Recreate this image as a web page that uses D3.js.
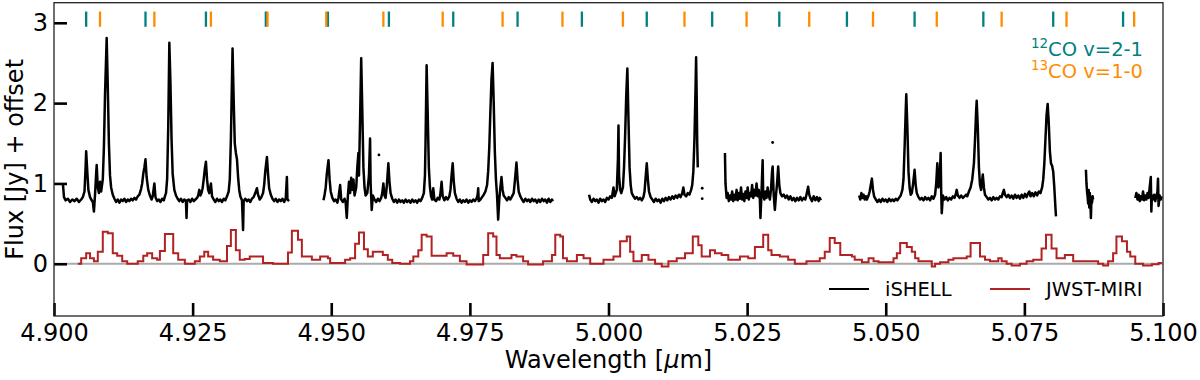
<!DOCTYPE html>
<html>
<head>
<meta charset="utf-8">
<script src="https://cdn.jsdelivr.net/npm/d3@7"></script>
<style>
 body { margin:0; background:#fff }
 text { font-family: "DejaVu Sans", sans-serif }
</style>
</head>
<body>
<script>

// line positions for the CO markers (micron)
var co12 = [4.9058,4.9165,4.9274,4.9382,4.9494,4.9604,4.9720,4.9836,4.9952,5.0069,5.0187,5.0308,5.0430,5.0552,5.0676,5.0802,5.0928]
var co13 = [4.9083,4.9181,4.9283,4.9385,4.9491,4.9594,4.9701,4.9809,4.9917,5.0026,5.0137,5.0249,5.0362,5.0477,5.0592,5.0709,5.0826,5.0948]

// iSHELL spectrum, [wavelength, flux + offset], one array per chunk
var ishell1 = [[4.9016,1.00],[4.9018,0.83],[4.9021,0.79],[4.9025,0.81],[4.9029,0.77],[4.9033,0.80],[4.9037,0.78],[4.9041,0.81],[4.9045,0.77],[4.9049,0.80],[4.9052,0.83],[4.9055,0.90],[4.9057,1.20],[4.9058,1.40],[4.9060,1.15],[4.9062,0.92],[4.9065,0.83],[4.9068,0.79],[4.9070,0.77],[4.9072,0.65],[4.9074,0.86],[4.9076,1.12],[4.9077,1.23],[4.9079,0.95],[4.9081,0.88],[4.9083,1.02],[4.9085,0.90],[4.9088,1.05],[4.9090,1.45],[4.9092,2.10],[4.9095,2.81],[4.9097,2.20],[4.9099,1.50],[4.9101,1.10],[4.9103,0.95],[4.9106,0.86],[4.9109,0.81],[4.9112,0.77],[4.9115,0.80],[4.9118,0.76],[4.9121,0.80],[4.9124,0.78],[4.9127,0.81],[4.9130,0.77],[4.9133,0.80],[4.9136,0.78],[4.9139,0.81],[4.9142,0.79],[4.9145,0.82],[4.9148,0.80],[4.9151,0.84],[4.9154,0.86],[4.9157,0.93],[4.9159,1.00],[4.9161,1.12],[4.9163,1.20],[4.9165,1.30],[4.9167,1.08],[4.9170,0.92],[4.9173,0.85],[4.9176,0.80],[4.9178,0.84],[4.9181,1.00],[4.9183,0.83],[4.9186,0.78],[4.9189,0.80],[4.9192,0.77],[4.9195,0.81],[4.9198,0.79],[4.9200,0.84],[4.9202,0.88],[4.9204,1.05],[4.9206,1.70],[4.9208,2.75],[4.9210,2.25],[4.9212,1.55],[4.9214,1.12],[4.9217,0.92],[4.9220,0.85],[4.9223,0.81],[4.9226,0.78],[4.9229,0.81],[4.9232,0.77],[4.9235,0.80],[4.9238,0.78],[4.9239,0.57],[4.9240,0.79],[4.9243,0.80],[4.9246,0.77],[4.9249,0.81],[4.9252,0.78],[4.9255,0.80],[4.9258,0.82],[4.9260,0.85],[4.9262,0.92],[4.9264,0.85],[4.9266,0.88],[4.9268,0.94],[4.9270,1.05],[4.9272,1.18],[4.9274,1.27],[4.9276,1.05],[4.9278,0.92],[4.9280,0.88],[4.9283,1.00],[4.9285,0.84],[4.9288,0.80],[4.9291,0.77],[4.9294,0.81],[4.9297,0.78],[4.9300,0.80],[4.9303,0.77],[4.9306,0.81],[4.9309,0.79],[4.9312,0.84],[4.9315,0.90],[4.9317,1.05],[4.9319,1.55],[4.9322,2.68],[4.9324,2.05],[4.9326,1.50],[4.9328,1.38],[4.9330,1.30],[4.9332,1.08],[4.9334,0.92],[4.9336,0.84],[4.9339,0.79],[4.9341,0.42],[4.9342,0.78],[4.9345,0.81],[4.9348,0.78],[4.9351,0.80],[4.9354,0.77],[4.9357,0.81],[4.9360,0.83],[4.9363,0.88],[4.9366,0.94],[4.9368,0.86],[4.9371,0.80],[4.9374,0.83],[4.9377,0.88],[4.9379,0.98],[4.9381,1.15],[4.9384,1.33],[4.9386,1.12],[4.9388,0.94],[4.9391,0.86],[4.9394,0.81],[4.9397,0.78],[4.9400,0.81],[4.9403,0.77],[4.9406,0.80],[4.9409,0.78],[4.9412,0.81],[4.9415,0.77],[4.9418,0.82],[4.9420,1.08],[4.9421,0.80],[4.9424,0.78]]
var ishell2 = [[4.9486,0.79],[4.9488,0.86],[4.9490,0.95],[4.9492,1.12],[4.9495,1.29],[4.9497,1.05],[4.9499,0.90],[4.9502,0.82],[4.9505,0.78],[4.9508,0.80],[4.9511,0.76],[4.9513,0.82],[4.9516,0.98],[4.9518,0.80],[4.9521,0.77],[4.9524,0.81],[4.9526,0.76],[4.9528,0.57],[4.9530,0.85],[4.9532,1.02],[4.9534,0.88],[4.9536,1.07],[4.9538,0.92],[4.9540,1.05],[4.9542,0.85],[4.9545,0.95],[4.9547,1.20],[4.9549,1.38],[4.9550,1.10],[4.9552,1.80],[4.9554,2.56],[4.9556,1.90],[4.9558,1.20],[4.9560,0.95],[4.9562,0.85],[4.9565,0.88],[4.9568,1.10],[4.9570,1.56],[4.9571,1.00],[4.9573,0.67],[4.9575,0.85],[4.9578,0.80],[4.9581,0.77],[4.9584,0.81],[4.9587,0.78],[4.9590,0.82],[4.9592,0.88],[4.9594,1.00],[4.9596,0.85],[4.9598,0.82],[4.9600,0.95],[4.9602,1.15],[4.9603,1.25],[4.9605,1.02],[4.9607,0.88],[4.9610,0.81],[4.9613,0.77],[4.9616,0.80],[4.9619,0.76],[4.9622,0.80],[4.9625,0.77],[4.9628,0.79],[4.9631,0.76],[4.9634,0.80],[4.9637,0.77],[4.9640,0.79],[4.9643,0.76],[4.9646,0.80],[4.9649,0.77],[4.9652,0.79],[4.9655,0.76],[4.9658,0.80],[4.9661,0.78],[4.9664,0.82],[4.9667,0.88],[4.9669,1.10],[4.9670,1.50],[4.9672,2.47],[4.9674,1.85],[4.9676,1.20],[4.9678,0.95],[4.9680,0.84],[4.9682,0.80],[4.9684,0.94],[4.9686,0.80],[4.9689,0.78],[4.9692,0.82],[4.9695,0.80],[4.9697,0.88],[4.9699,1.02],[4.9701,0.84],[4.9704,0.79],[4.9707,0.83],[4.9710,0.80],[4.9713,0.84],[4.9715,0.92],[4.9717,1.10],[4.9719,1.25],[4.9721,1.02],[4.9723,0.88],[4.9726,0.81],[4.9729,0.77],[4.9732,0.80],[4.9735,0.76],[4.9738,0.79],[4.9741,0.77],[4.9744,0.80],[4.9747,0.76],[4.9750,0.79],[4.9753,0.77],[4.9756,0.80],[4.9759,0.78],[4.9762,0.81],[4.9764,0.86],[4.9765,0.94],[4.9766,0.78],[4.9769,0.80],[4.9772,0.83],[4.9775,0.86],[4.9778,0.90],[4.9781,0.98],[4.9783,1.15],[4.9785,1.45],[4.9787,1.90],[4.9789,2.30],[4.9791,2.50],[4.9793,2.00],[4.9795,1.40],[4.9797,1.05],[4.9799,0.85],[4.9801,0.55],[4.9803,0.80],[4.9805,0.95],[4.9807,1.08],[4.9809,0.92],[4.9811,0.85],[4.9814,0.82],[4.9817,0.79],[4.9820,0.83],[4.9823,0.80],[4.9826,0.84],[4.9829,0.88],[4.9831,1.02],[4.9833,1.18],[4.9834,1.26],[4.9836,1.05],[4.9838,0.90],[4.9841,0.84],[4.9844,0.80],[4.9847,0.77],[4.9850,0.81],[4.9853,0.78],[4.9856,0.80],[4.9859,0.77],[4.9862,0.81],[4.9865,0.78],[4.9868,0.80],[4.9871,0.76],[4.9874,0.80],[4.9877,0.77],[4.9880,0.81],[4.9883,0.78],[4.9886,0.80],[4.9889,0.76],[4.9892,0.81],[4.9895,0.77],[4.9898,0.80],[4.9900,0.78]]
var ishell3 = [[4.9965,0.86],[4.9967,0.80],[4.9970,0.77],[4.9973,0.81],[4.9976,0.78],[4.9979,0.80],[4.9982,0.76],[4.9985,0.81],[4.9988,0.78],[4.9991,0.80],[4.9994,0.77],[4.9997,0.82],[5.0000,0.80],[5.0003,0.84],[5.0006,0.82],[5.0009,0.95],[5.0011,0.84],[5.0013,0.88],[5.0015,0.92],[5.0017,1.30],[5.0018,1.72],[5.0019,1.10],[5.0021,0.92],[5.0023,0.88],[5.0026,0.95],[5.0028,1.20],[5.0030,1.60],[5.0032,2.10],[5.0034,2.43],[5.0036,1.80],[5.0038,1.20],[5.0040,0.98],[5.0042,0.88],[5.0045,0.84],[5.0048,0.81],[5.0051,0.83],[5.0054,0.80],[5.0057,0.82],[5.0060,0.79],[5.0063,0.83],[5.0065,0.90],[5.0067,1.08],[5.0069,1.25],[5.0071,1.05],[5.0073,0.90],[5.0076,0.83],[5.0079,0.80],[5.0082,0.77],[5.0085,0.81],[5.0088,0.78],[5.0091,0.80],[5.0094,0.76],[5.0097,0.81],[5.0100,0.78],[5.0103,0.82],[5.0106,0.79],[5.0109,0.83],[5.0112,0.80],[5.0115,0.84],[5.0118,0.81],[5.0121,0.85],[5.0124,0.82],[5.0127,0.86],[5.0130,0.83],[5.0133,0.88],[5.0135,0.95],[5.0137,0.86],[5.0140,0.84],[5.0143,0.88],[5.0146,0.86],[5.0149,0.92],[5.0151,0.98],[5.0153,1.15],[5.0155,1.55],[5.0157,2.20],[5.0158,2.57],[5.0159,2.10],[5.0160,1.50],[5.0161,1.20]]
var ishell4 = [[5.0210,1.38],[5.0211,1.00],[5.0213,0.82],[5.0215,0.88],[5.0217,0.78],[5.0219,0.85],[5.0221,0.80],[5.0223,0.90],[5.0225,0.78],[5.0227,0.86],[5.0229,0.80],[5.0231,0.92],[5.0233,0.79],[5.0235,0.88],[5.0237,0.81],[5.0239,0.95],[5.0241,0.80],[5.0243,0.87],[5.0245,0.78],[5.0247,0.90],[5.0249,0.82],[5.0251,0.95],[5.0253,0.80],[5.0255,0.88],[5.0257,0.84],[5.0259,0.98],[5.0261,0.82],[5.0263,0.92],[5.0265,0.85],[5.0267,1.00],[5.0269,0.84],[5.0271,0.92],[5.0273,0.80],[5.0274,0.57],[5.0276,0.90],[5.0278,1.29],[5.0279,0.85],[5.0281,0.80],[5.0283,0.90],[5.0285,0.82],[5.0287,0.95],[5.0289,0.85],[5.0291,0.80],[5.0293,0.92],[5.0295,1.15],[5.0296,1.21],[5.0298,0.85],[5.0300,0.67],[5.0302,0.85],[5.0304,1.00],[5.0306,1.21],[5.0308,0.98],[5.0310,0.88],[5.0313,0.84],[5.0316,0.86],[5.0319,0.82],[5.0322,0.85],[5.0325,0.80],[5.0328,0.84],[5.0331,0.79],[5.0334,0.82],[5.0337,0.78],[5.0340,0.82],[5.0343,0.79],[5.0346,0.83],[5.0349,0.79],[5.0352,0.82],[5.0355,0.80],[5.0357,0.86],[5.0359,0.92],[5.0360,0.96],[5.0362,0.86],[5.0364,0.82],[5.0367,0.78],[5.0370,0.84],[5.0373,0.79],[5.0376,0.83],[5.0379,0.78],[5.0381,0.82],[5.0383,0.79]]
var ishell5 = [[5.0452,0.85],[5.0454,0.80],[5.0456,0.88],[5.0458,0.82],[5.0460,0.86],[5.0462,0.80],[5.0464,0.84],[5.0466,0.80],[5.0469,0.85],[5.0471,0.90],[5.0473,0.98],[5.0475,1.06],[5.0477,0.92],[5.0479,0.84],[5.0482,0.80],[5.0485,0.77],[5.0488,0.80],[5.0491,0.77],[5.0494,0.81],[5.0497,0.78],[5.0500,0.80],[5.0503,0.77],[5.0506,0.81],[5.0509,0.78],[5.0512,0.80],[5.0515,0.78],[5.0518,0.81],[5.0521,0.79],[5.0524,0.82],[5.0527,0.85],[5.0530,0.92],[5.0532,1.05],[5.0534,1.45],[5.0536,1.90],[5.0537,2.11],[5.0539,1.70],[5.0541,1.15],[5.0543,0.95],[5.0545,0.86],[5.0547,0.88],[5.0549,0.98],[5.0551,1.10],[5.0552,1.17],[5.0554,0.98],[5.0556,0.88],[5.0559,0.83],[5.0562,0.80],[5.0565,0.82],[5.0568,0.79],[5.0571,0.83],[5.0574,0.80],[5.0577,0.82],[5.0580,0.79],[5.0583,0.84],[5.0586,0.81],[5.0589,0.86],[5.0591,1.00],[5.0593,1.25],[5.0595,0.95],[5.0597,1.00],[5.0599,1.38],[5.0600,0.90],[5.0601,0.63],[5.0603,0.85],[5.0606,0.80],[5.0609,0.83],[5.0612,0.79],[5.0615,0.82],[5.0618,0.80],[5.0621,0.84],[5.0624,0.82],[5.0626,0.86],[5.0628,0.92],[5.0630,0.85],[5.0633,0.82],[5.0636,0.85],[5.0639,0.82],[5.0642,0.84],[5.0645,0.86],[5.0647,0.84],[5.0650,0.90],[5.0653,0.95],[5.0656,1.05],[5.0659,1.25],[5.0661,1.55],[5.0663,1.90],[5.0664,2.03],[5.0666,1.70],[5.0668,1.20],[5.0670,0.98],[5.0672,0.92],[5.0674,1.05],[5.0675,1.11],[5.0677,0.95],[5.0679,0.86],[5.0682,0.83],[5.0685,0.80],[5.0688,0.82],[5.0691,0.79],[5.0694,0.83],[5.0697,0.80],[5.0700,0.82],[5.0703,0.80],[5.0706,0.84],[5.0709,0.83],[5.0711,0.88],[5.0713,0.92],[5.0715,0.86],[5.0718,0.83],[5.0721,0.86],[5.0724,0.82],[5.0727,0.85],[5.0730,0.81],[5.0733,0.86],[5.0736,0.82],[5.0739,0.85],[5.0742,0.81],[5.0745,0.86],[5.0748,0.82],[5.0751,0.87],[5.0754,0.83],[5.0757,0.88],[5.0759,0.90],[5.0761,0.84],[5.0764,0.88],[5.0767,0.84],[5.0770,0.89],[5.0773,0.85],[5.0776,0.90],[5.0779,0.88],[5.0782,0.95],[5.0784,1.05],[5.0786,1.25],[5.0788,1.55],[5.0790,1.85],[5.0792,1.99],[5.0794,1.75],[5.0796,1.40],[5.0798,1.25],[5.0800,1.22],[5.0802,1.15],[5.0804,0.95],[5.0806,0.70],[5.0807,0.59]]
var ishell6 = [[5.0861,1.17],[5.0862,1.00],[5.0863,0.90],[5.0864,0.84],[5.0865,0.75],[5.0866,0.92],[5.0867,0.70],[5.0868,0.88],[5.0869,0.78],[5.0870,0.57],[5.0871,0.82],[5.0872,0.76],[5.0873,0.84],[5.0874,0.80]]
var ishell7 = [[5.0950,0.82],[5.0952,0.88],[5.0954,0.80],[5.0956,0.86],[5.0958,0.78],[5.0960,0.84],[5.0962,0.80],[5.0964,0.90],[5.0966,0.79],[5.0968,0.85],[5.0970,0.80],[5.0972,0.88],[5.0974,0.82],[5.0976,0.95],[5.0978,1.08],[5.0979,0.65],[5.0980,0.85],[5.0982,0.80],[5.0984,0.86],[5.0986,0.78],[5.0988,0.84],[5.0990,0.90],[5.0991,1.06],[5.0992,0.72],[5.0994,0.85],[5.0996,0.80],[5.0998,0.84]]
var ishellDots = [[4.9586,1.355],[5.0169,0.94],[5.0169,0.81],[5.0296,1.51]]

// JWST-MIRI, step start wavelength and flux
var miriWave = [4.9043,4.9049,4.9058,4.9065,4.9072,4.9079,4.9088,4.9097,4.9106,4.9114,4.9123,4.9132,4.9151,4.9161,4.9168,4.9177,4.9186,4.9191,4.9200,4.9215,4.9224,4.9236,4.9254,4.9263,4.9271,4.9278,4.9287,4.9299,4.9312,4.9319,4.9328,4.9335,4.9344,4.9353,4.9377,4.9395,4.9422,4.9429,4.9440,4.9447,4.9465,4.9480,4.9494,4.9498,4.9525,4.9534,4.9543,4.9550,4.9559,4.9566,4.9575,4.9593,4.9602,4.9610,4.9624,4.9642,4.9648,4.9657,4.9663,4.9672,4.9681,4.9708,4.9720,4.9732,4.9744,4.9774,4.9783,4.9792,4.9798,4.9804,4.9825,4.9834,4.9846,4.9855,4.9882,4.9898,4.9904,4.9913,4.9918,4.9925,4.9943,4.9955,4.9967,4.9991,5.0009,5.0021,5.0033,5.0039,5.0045,5.0060,5.0072,5.0084,5.0096,5.0108,5.0123,5.0138,5.0152,5.0162,5.0168,5.0183,5.0192,5.0204,5.0216,5.0237,5.0252,5.0264,5.0279,5.0288,5.0294,5.0309,5.0324,5.0336,5.0357,5.0381,5.0390,5.0399,5.0408,5.0418,5.0439,5.0444,5.0457,5.0469,5.0478,5.0487,5.0514,5.0520,5.0526,5.0538,5.0547,5.0553,5.0559,5.0583,5.0589,5.0598,5.0613,5.0622,5.0646,5.0653,5.0670,5.0679,5.0688,5.0703,5.0709,5.0718,5.0727,5.0742,5.0754,5.0766,5.0781,5.0789,5.0799,5.0808,5.0823,5.0838,5.0883,5.0892,5.0901,5.0910,5.0916,5.0926,5.0935,5.0941,5.0950,5.0964,5.0980,5.0992]
var miriFlux = [0.00,0.07,0.13,0.07,0.03,0.15,0.40,0.38,0.13,0.10,0.03,0.00,0.03,0.10,0.13,0.07,0.05,0.16,0.37,0.13,0.05,0.00,0.03,0.09,0.15,0.09,0.05,0.03,0.22,0.42,0.17,0.05,0.06,0.09,0.01,0.00,0.14,0.41,0.30,0.09,0.05,0.09,0.07,0.01,0.05,0.07,0.25,0.39,0.18,0.09,0.15,0.11,0.05,0.01,0.00,0.03,0.09,0.17,0.36,0.34,0.10,0.13,0.10,0.03,-0.01,0.11,0.38,0.34,0.11,0.07,0.11,0.09,0.03,-0.01,0.03,0.11,0.36,0.34,0.07,0.03,0.11,0.07,0.00,0.05,0.09,0.28,0.34,0.15,0.03,0.11,0.05,0.00,-0.035,0.03,0.07,0.13,0.34,0.23,0.09,0.17,0.13,0.11,0.05,0.09,0.07,0.21,0.36,0.17,0.11,0.09,0.05,0.00,0.03,0.07,0.15,0.32,0.26,0.11,0.09,0.05,0.02,0.07,0.03,0.02,0.07,0.13,0.26,0.21,0.15,0.07,0.03,-0.035,0.00,0.02,0.05,0.07,0.09,0.26,0.09,0.05,0.03,0.07,0.03,0.00,-0.02,0.00,0.03,0.05,0.19,0.36,0.19,0.07,0.11,0.03,0.00,-0.02,0.03,0.13,0.34,0.28,0.15,0.09,0.00,-0.02,-0.005,0.01]
var miriEnd = 5.0998

var xTicks = [4.900,4.925,4.950,4.975,5.000,5.025,5.050,5.075,5.100]
var yTicks = [0,1,2,3]

spec = {}
spec.W = 1200
spec.H = 380
spec.x = d3.scaleLinear().domain([4.9,5.1]).range([54,1163])
spec.y = d3.scaleLinear().domain([-0.65,3.25]).range([316,2.7])

spec.main = function() {
  var x = spec.x, y = spec.y
  var svg = d3.select('body').append('svg')
    .attr('width', spec.W).attr('height', spec.H)
  svg.append('rect').attr('width', spec.W).attr('height', spec.H).attr('fill', '#fff')

  // zero line
  svg.append('line')
    .attr('x1', x(4.9)).attr('x2', x(5.1)).attr('y1', y(0)).attr('y2', y(0))
    .attr('stroke', '#ababab').attr('stroke-width', 2)

  var miri = miriWave.map(function(w, i) { return [w, miriFlux[i]] })
  miri.push([miriEnd, miriFlux[miriFlux.length - 1]])
  var step = d3.line().x(function(d) { return x(d[0]) }).y(function(d) { return y(d[1]) }).curve(d3.curveStepAfter)
  svg.append('path').datum(miri).attr('d', step)
    .attr('fill', 'none').attr('stroke', '#b22222').attr('stroke-width', 2)

  var line = d3.line().x(function(d) { return x(d[0]) }).y(function(d) { return y(d[1]) })
  var chunks = [ishell1, ishell2, ishell3, ishell4, ishell5, ishell6, ishell7]
  svg.selectAll('.ishell').data(chunks).enter().append('path').attr('class', 'ishell')
    .attr('d', line).attr('fill', 'none').attr('stroke', '#000')
    .attr('stroke-width', 2.5).attr('stroke-linejoin', 'round')
  svg.selectAll('.dot').data(ishellDots).enter().append('circle').attr('class', 'dot')
    .attr('cx', function(d) { return x(d[0]) }).attr('cy', function(d) { return y(d[1]) })
    .attr('r', 1.4).attr('fill', '#000')

  // CO line markers
  var marks = co12.map(function(w) { return {w: w, c: '#008080'} })
    .concat(co13.map(function(w) { return {w: w, c: '#ff8c00'} }))
  svg.selectAll('.mark').data(marks).enter().append('line').attr('class', 'mark')
    .attr('x1', function(d) { return x(d.w) }).attr('x2', function(d) { return x(d.w) })
    .attr('y1', y(2.95)).attr('y2', y(3.14))
    .attr('stroke', function(d) { return d.c }).attr('stroke-width', 2.3)

  // axes, ticks point inward
  var minorX = d3.range(4.9, 5.1001, 0.005).filter(function(v) { return Math.abs(v * 40 - Math.round(v * 40)) > 1e-6 })
  var minorY = d3.range(-0.6, 3.21, 0.2).filter(function(v) { return Math.abs(v - Math.round(v)) > 1e-6 })

  var gx = svg.append('g').attr('transform', 'translate(0,' + y(-0.65) + ')')
  gx.call(d3.axisBottom(x).tickValues(minorX).tickSize(-7).tickFormat(''))
  gx.call(d3.axisBottom(x).tickValues(xTicks).tickSize(-13).tickPadding(8).tickFormat(d3.format('.3f')))
  var gy = svg.append('g').attr('transform', 'translate(' + x(4.9) + ',0)')
  gy.call(d3.axisLeft(y).tickValues(minorY).tickSize(-8).tickFormat(''))
  gy.call(d3.axisLeft(y).tickValues(yTicks).tickSize(-13).tickPadding(6).tickFormat(d3.format('d')))

  svg.selectAll('.domain').remove()
  svg.selectAll('.tick line').attr('stroke', '#000').attr('stroke-width', function(d) {
    return (xTicks.indexOf(d) >= 0 || yTicks.indexOf(d) >= 0) ? 2.6 : 1.6 })
  svg.selectAll('.tick text').attr('font-size', 24).attr('fill', '#000')
    .attr('font-family', 'DejaVu Sans')

  svg.append('rect')
    .attr('x', x(4.9)).attr('y', y(3.25))
    .attr('width', x(5.1) - x(4.9)).attr('height', y(-0.65) - y(3.25))
    .attr('fill', 'none').attr('stroke', '#222').attr('stroke-width', 1.3)

  // axis titles
  var xl = svg.append('text').attr('x', (x(4.9) + x(5.1)) / 2).attr('y', 368)
    .attr('text-anchor', 'middle').attr('font-size', 24)
  xl.append('tspan').text('Wavelength [')
  xl.append('tspan').attr('font-style', 'italic').text('\u03bc')
  xl.append('tspan').text('m]')
  svg.append('text').attr('transform', 'translate(23,' + (y(-0.65) + y(3.25)) / 2 + ') rotate(-90)')
    .attr('text-anchor', 'middle').attr('font-size', 24).text('Flux [Jy] + offset')

  // CO label, top right
  var lab = [{iso: '12', t: 'CO v=2-1', c: '#008080', yy: 56}, {iso: '13', t: 'CO v=1-0', c: '#ff8c00', yy: 78}]
  lab.forEach(function(l) {
    var t = svg.append('text').attr('x', 1143).attr('y', l.yy).attr('text-anchor', 'end')
      .attr('fill', l.c).attr('font-size', 19.5)
    t.append('tspan').attr('font-size', 13.5).attr('dy', -8).text(l.iso)
    t.append('tspan').attr('dy', 8).text(l.t)
  })

  // legend
  var leg = [{n: 'iSHELL', c: '#000', x0: 829}, {n: 'JWST-MIRI', c: '#b22222', x0: 990}]
  leg.forEach(function(l) {
    svg.append('line').attr('x1', l.x0).attr('x2', l.x0 + 40).attr('y1', 289).attr('y2', 289)
      .attr('stroke', l.c).attr('stroke-width', 2)
    svg.append('text').attr('x', l.x0 + 56).attr('y', 296).attr('font-size', 19.5).text(l.n)
  })
}

spec.main()
</script>
</body>
</html>
